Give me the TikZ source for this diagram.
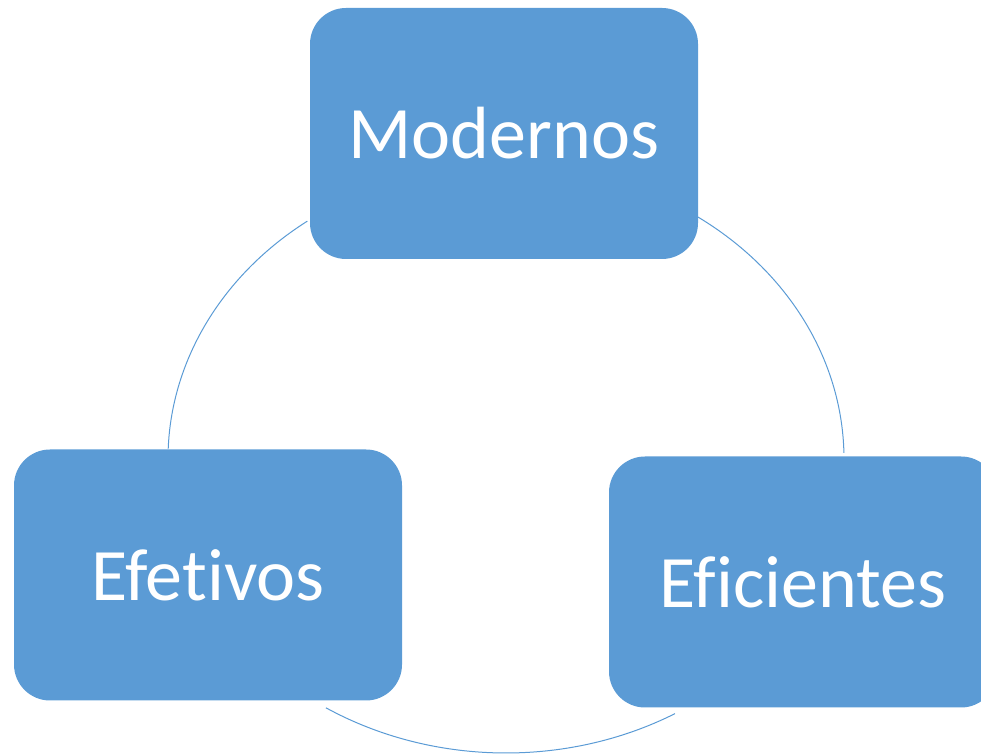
\documentclass[tikz,border=0pt]{standalone}
\usepackage{fontspec}
\setmainfont{Carlito}[Ligatures=NoCommon]
\usetikzlibrary{calc}
\definecolor{boxblue}{HTML}{5B9BD5}
\tikzset{
  cyclebox/.style={fill=boxblue, draw=none, rounded corners=36pt, minimum width=388pt, minimum height=251pt, inner sep=0pt, text=white, font=\fontsize{74}{78}\selectfont},
  cyclearc/.style={draw=boxblue, line width=1pt}
}
\begin{document}
\begin{tikzpicture}[x=1pt,y=1pt]
\useasboundingbox (0,0) rectangle (981,754);
\clip (0,0) rectangle (981,754);
\coordinate (c) at (506,295);
\draw[cyclearc] ($(c)+(126:338 and 294)$) arc[start angle=126, end angle=178, x radius=338, y radius=294];
\draw[cyclearc] ($(c)+(55.4:338 and 294)$) arc[start angle=55.4, end angle=1.2, x radius=338, y radius=294];
\draw[cyclearc] ($(c)+(237.8:338 and 294)$) arc[start angle=237.8, end angle=300, x radius=338, y radius=294];
\node[cyclebox] (mod) at (504,620.5) {Modernos};
\node[cyclebox] (efe) at (208,179) {Efetivos};
\node[cyclebox] (efi) at (803,172) {Eficientes};
\end{tikzpicture}
\end{document}
